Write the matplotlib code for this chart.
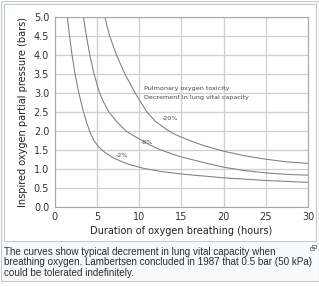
import matplotlib
matplotlib.use('Agg')
import matplotlib.pyplot as plt
from matplotlib.patches import Rectangle

# curve data: (hours, bar)
hours_2 = [1.5, 1.75, 2.05, 2.4, 2.85, 3.4, 3.8, 4.2, 4.7, 5.3, 6.0, 6.9, 8.0, 9.0, 10.5, 12.5, 15, 20, 25, 30]
bar_2 = [5.0, 4.5, 4.0, 3.5, 3.0, 2.5, 2.2, 1.95, 1.72, 1.55, 1.42, 1.29, 1.18, 1.1, 1.01, 0.93, 0.86, 0.76, 0.69, 0.64]

hours_8 = [3.4, 3.75, 4.15, 4.65, 5.3, 5.8, 6.4, 7.3, 8.4, 9.3, 10.3, 11.3, 12.5, 14, 15, 17.5, 20, 22.5, 25, 27.5, 30]
bar_8 = [5.0, 4.5, 4.0, 3.5, 3.0, 2.75, 2.5, 2.25, 2.0, 1.87, 1.75, 1.62, 1.5, 1.38, 1.31, 1.17, 1.04, 0.95, 0.89, 0.85, 0.83]

hours_20 = [5.95, 6.2, 6.5, 6.9, 7.3, 7.8, 8.3, 8.9, 9.5, 10.2, 10.9, 11.9, 13.25, 14, 15, 16, 17.5, 20, 22.5, 25, 27.5, 30]
bar_20 = [5.0, 4.75, 4.5, 4.25, 4.0, 3.75, 3.5, 3.25, 3.0, 2.75, 2.5, 2.25, 2.03, 1.93, 1.83, 1.74, 1.62, 1.46, 1.34, 1.25, 1.18, 1.14]

curve_labels = ['-2%', '-8%', '-20%']
x_ticks = [0, 5, 10, 15, 20, 25, 30]
y_ticks = [0.0, 0.5, 1.0, 1.5, 2.0, 2.5, 3.0, 3.5, 4.0, 4.5, 5.0]

caption = ["The curves show typical decrement in lung vital capacity when",
           "breathing oxygen. Lambertsen concluded in 1987 that 0.5 bar (50 kPa)",
           "could be tolerated indefinitely."]

W, H = 319, 287
fig = plt.figure(figsize=(W / 100, H / 100), dpi=100)
fig.patch.set_facecolor('white')

def px(x, y):
    # figure pixel (from top-left) -> figure fraction
    return x / W, 1 - y / H

# thumbnail frame, kept behind the axes
x0, y0 = px(0.5, 281)
fig.patches.append(Rectangle((x0, y0), 318 / W, 280.5 / H, transform=fig.transFigure,
                             facecolor='#f8f9fa', edgecolor='#c8ccd1', lw=0.8, zorder=-2))
x0, y0 = px(3.5, 241)
fig.patches.append(Rectangle((x0, y0), 312 / W, 237 / H, transform=fig.transFigure,
                             facecolor='white', edgecolor='#c8ccd1', lw=0.8, zorder=-1))

ax = fig.add_axes([54.7 / W, 1 - 206.7 / H, (308 - 54.7) / W, 190 / H])
ax.set_facecolor('white')

line_kw = dict(color='#7d7d7d', lw=0.75)
ax.plot(hours_2, bar_2, **line_kw)
ax.plot(hours_8, bar_8, **line_kw)
ax.plot(hours_20, bar_20, **line_kw)

ax.set_xlim(0, 30)
ax.set_ylim(0, 5)
ax.set_xticks(x_ticks)
ax.set_yticks(y_ticks)
ax.set_yticklabels([f'{v:.1f}' for v in y_ticks])
ax.grid(True, color='#cfcfcf', lw=0.9)
ax.set_axisbelow(True)
for s in ax.spines.values():
    s.set_color('#a8a8a8')
    s.set_linewidth(0.8)
ax.tick_params(length=0, pad=4, labelsize=7, labelcolor='#333333')

ax.set_xlabel('Duration of oxygen breathing (hours)', fontsize=7, color='#222222', labelpad=3)
ax.set_ylabel('Inspired oxygen partial pressure (bars)', fontsize=7, color='#222222', labelpad=4)

# curve annotations
small = dict(fontsize=4.6, color='#444444', family='DejaVu Sans')
ax.text(10.6, 3.1, 'Pulmonary oxygen toxicity', va='center', ha='left', **small)
ax.text(10.6, 2.88, 'Decrement in lung vital capacity', va='center', ha='left', **small)
ax.text(8.0, 1.34, curve_labels[0], ha='center', va='center', **small)
ax.text(10.9, 1.7, curve_labels[1], ha='center', va='center', **small)
ax.text(13.7, 2.33, curve_labels[2], ha='center', va='center', **small)

# caption
for i, line in enumerate(caption):
    cx, cy = px(4, 252 + i * 10.4)
    fig.text(cx, cy, line, fontsize=7.1, color='#2a2b2c', family='Liberation Sans',
             ha='left', va='center')

# small enlarge icon
ix, iy = px(310, 250)
fig.patches.append(Rectangle((ix, iy), 4 / W, 3 / H, transform=fig.transFigure,
                             facecolor='none', edgecolor='#72777d', lw=0.6))
ix, iy = px(312, 248)
fig.patches.append(Rectangle((ix, iy), 4 / W, 3 / H, transform=fig.transFigure,
                             facecolor='none', edgecolor='#72777d', lw=0.6))

fig.savefig('out.png', dpi=100, facecolor='white')
